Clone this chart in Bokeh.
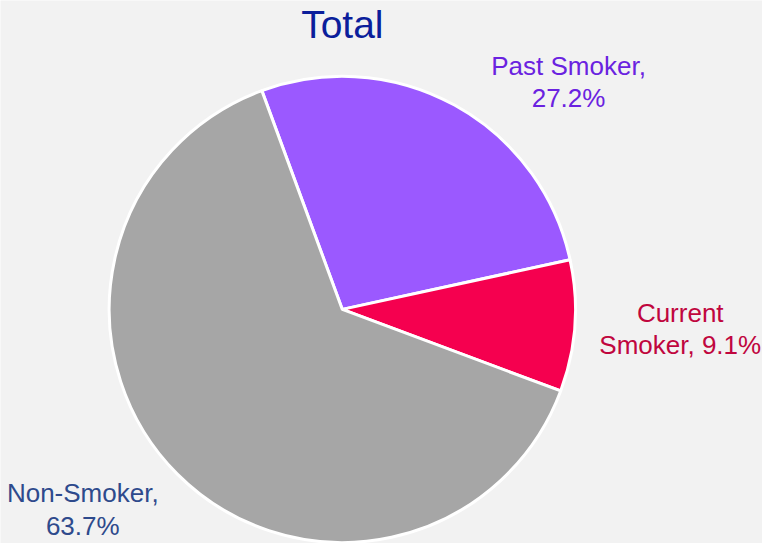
import textwrap
import numpy as np
from bokeh.plotting import figure
from bokeh.models import ColumnDataSource, Range1d
from bokeh.core.properties import value
from bokeh.embed import file_html
from bokeh.resources import INLINE

# ---- data ----
title_text = "Total"
categories = ["Past Smoker", "Current Smoker", "Non-Smoker"]
percents = [27.2, 9.1, 63.7]

# ---- styles ----
slice_colors = ["#9b59ff", "#f5004f", "#a6a6a6"]
label_colors = ["#6a22e0", "#c0063e", "#2e4a8c"]
BG = "#f2f2f2"
FONT = "Liberation Sans"

W, H = 762, 543
REF_W, REF_H = 778, 559
# data coords == reference-picture pixel coords (y measured upward from bottom)
p = figure(width=W, height=H, output_backend="svg", toolbar_location=None,
           x_range=Range1d(0, REF_W), y_range=Range1d(0, REF_H),
           min_border=0, background_fill_color=BG, border_fill_color=BG)
p.axis.visible = False
p.grid.visible = False
p.outline_line_color = None

cx, cy, r = 349, REF_H - 318, 238
start_deg = 110.2

vals = np.array(percents) / sum(percents)
cum = np.concatenate([[0], np.cumsum(vals)])
starts = np.radians(start_deg - cum[1:] * 360)
ends = np.radians(start_deg - cum[:-1] * 360)

src = ColumnDataSource(dict(start=starts, end=ends, color=slice_colors))
p.wedge(x=cx, y=cy, radius=r, start_angle="start", end_angle="end",
        fill_color="color", line_color="white", line_width=3, source=src)

# labels
label_pos = [(580, 84), (694, 338), (84, 524)]  # block centers in reference pixels
labels = ["\n".join(textwrap.wrap(f"{c}, {v}%", width=12)) for c, v in zip(categories, percents)]
lsrc = ColumnDataSource(dict(x=[q[0] for q in label_pos],
                             y=[REF_H - q[1] for q in label_pos],
                             text=labels, color=label_colors))
p.text(x="x", y="y", text="text", text_color="color", source=lsrc,
       text_font=value(FONT), text_font_size="26px", text_align="center",
       text_baseline="middle", text_line_height=1.07)

p.text(x=[349], y=[REF_H - 25], text=[title_text], text_color="#0b1e9b",
       text_font=value(FONT), text_font_size="39px", text_align="center",
       text_baseline="middle")

open("out.html", "w").write(file_html(p, INLINE))
